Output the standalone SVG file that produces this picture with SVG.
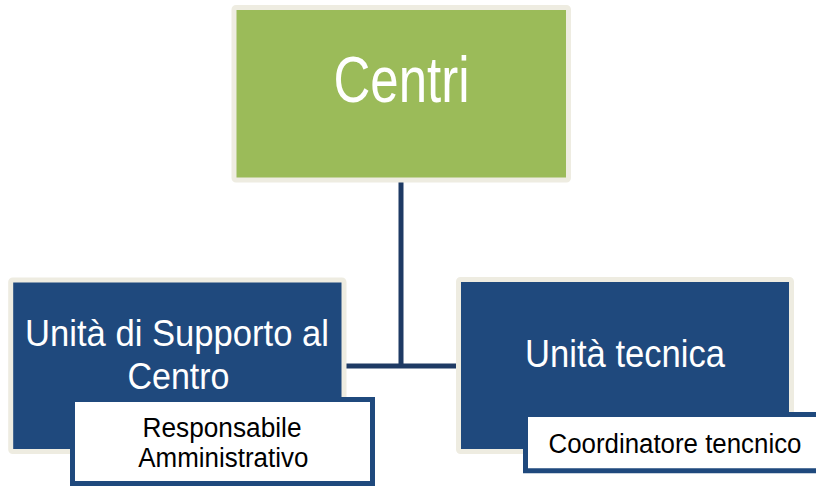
<svg xmlns="http://www.w3.org/2000/svg" width="816" height="486" viewBox="0 0 816 486">
<style>
.frame{stroke:#EEECE1;stroke-width:5}
.green{fill:#9BBB59}
.blue{fill:#1F497D}
.sub{fill:#FFFFFF;stroke:#1F497D;stroke-width:5}
.edge{fill:none;stroke:#1F497D;stroke-width:5}
.conn{stroke:#1E3A64;stroke-width:5;fill:none}
text{font-family:"Liberation Sans",Arial,sans-serif;text-anchor:middle}
.w{fill:#FFFFFF}
.k{fill:#000000}
</style>
<rect width="816" height="486" fill="#FFFFFF"/>
<g id="connectors">
<path class="conn" d="M401,182 V366 M345,366 H458"/>
</g>
<g id="node-centri">
<rect class="frame green" x="234" y="7.5" width="334.5" height="172.5" rx="2"/>
<text class="w" x="401.5" y="102" font-size="64" textLength="136" lengthAdjust="spacingAndGlyphs">Centri</text>
</g>
<g id="node-supporto">
<rect class="frame blue" x="10.7" y="280" width="333.3" height="171.5" rx="2"/>
<text class="w" x="177" y="346" font-size="36" textLength="304" lengthAdjust="spacingAndGlyphs">Unità di Supporto al</text>
<text class="w" x="178.5" y="389" font-size="36" textLength="102" lengthAdjust="spacingAndGlyphs">Centro</text>
</g>
<g id="node-tecnica">
<rect class="frame blue" x="458.5" y="279.5" width="333" height="172" rx="2"/>
<text class="w" x="625" y="367" font-size="38" textLength="200" lengthAdjust="spacingAndGlyphs">Unità tecnica</text>
</g>
<g id="node-responsabile">
<rect class="sub" x="72.5" y="399.5" width="300" height="84"/>
<text class="k" x="222" y="437" font-size="27" textLength="159" lengthAdjust="spacingAndGlyphs">Responsabile</text>
<text class="k" x="223.3" y="467" font-size="27" textLength="170" lengthAdjust="spacingAndGlyphs">Amministrativo</text>
</g>
<g id="node-coordinatore">
<rect x="525.5" y="414.5" width="290.5" height="56.3" fill="#FFFFFF"/>
<path class="edge" d="M816,414.5 H525.5 V470.8 H816"/>
<text class="k" x="548.5" y="453" font-size="27" textLength="253" lengthAdjust="spacingAndGlyphs" style="text-anchor:start">Coordinatore tencnico</text>
</g>
</svg>
